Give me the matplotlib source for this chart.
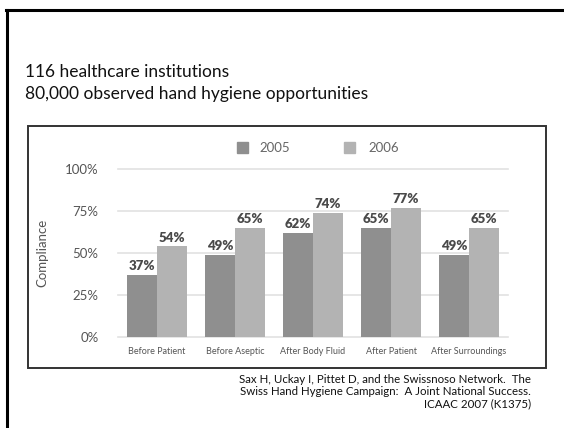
import matplotlib
matplotlib.use("Agg")
import matplotlib.pyplot as plt
import numpy as np
from matplotlib.patches import Rectangle
from matplotlib.lines import Line2D

# data
categories = ["Before Patient", "Before Aseptic", "After Body Fluid", "After Patient", "After Surroundings"]
y2005 = [37, 49, 62, 65, 49]
y2006 = [54, 65, 74, 77, 65]
years = ["2005", "2006"]
yticks = [0, 25, 50, 75, 100]

W, H = 564, 428
fig = plt.figure(figsize=(W / 100, H / 100), dpi=100)
plt.rcParams['font.family'] = ['Lato', 'DejaVu Sans']

def fx(px):
    return px / W

def fy(py):
    return 1 - py / H

# slide frame (top and left edges)
fig.add_artist(Line2D([fx(6), 1], [fy(10), fy(10)], color='black', lw=2.2))
fig.add_artist(Line2D([fx(6.5), fx(6.5)], [fy(10), 0], color='black', lw=2.2))

# headline
fig.text(fx(25), fy(72), "116 healthcare institutions", fontsize=12.5, va='center', color='#111111')
fig.text(fx(25), fy(94), "80,000 observed hand hygiene opportunities", fontsize=12.5, va='center', color='#111111')

# chart box
fig.add_artist(Rectangle((fx(28), fy(368)), fx(546) - fx(28), fy(126) - fy(368),
                         fill=False, edgecolor='#333333', lw=1.4))

ax = fig.add_axes([fx(118), fy(337), fx(508) - fx(118), fy(169) - fy(337)])
c05, c06 = '#8f8f8f', '#b3b3b3'
x = np.arange(len(categories))
w = 0.38
ax.bar(x - w / 2, y2005, w, color=c05, zorder=2)
ax.bar(x + w / 2, y2006, w, color=c06, zorder=2)

for xi, v in zip(x - w / 2, y2005):
    ax.text(xi, v + 1.5, f"{v}%", ha='center', va='bottom', fontsize=9.5,
            fontweight='heavy', color='#4a4a4a')
for xi, v in zip(x + w / 2, y2006):
    ax.text(xi, v + 1.5, f"{v}%", ha='center', va='bottom', fontsize=9.5,
            fontweight='heavy', color='#4a4a4a')

ax.set_xlim(-0.5, len(categories) - 0.5)
ax.set_ylim(0, 100)
ax.set_yticks(yticks)
ax.set_yticklabels([f"{t}%" for t in yticks], fontsize=9.5, color='#555555')
for t in yticks:
    ax.axhline(t, color='#e2e2e2', lw=1.2, zorder=1, clip_on=False)
ax.set_xticks(x)
ax.set_xticklabels(categories, fontsize=6.5, color='#555555')
ax.tick_params(length=0, axis='y', pad=14)
ax.tick_params(length=0, axis='x', pad=7)
for s in ax.spines.values():
    s.set_visible(False)
ax.set_ylabel("Compliance", fontsize=9.5, color='#555555', labelpad=12)

# legend
fig.add_artist(Rectangle((fx(237), fy(153)), fx(248) - fx(237), fy(142) - fy(153), color=c05))
fig.text(fx(259), fy(148), years[0], fontsize=9.5, va='center', color='#666666')
fig.add_artist(Rectangle((fx(344), fy(153)), fx(355) - fx(344), fy(142) - fy(153), color=c06))
fig.text(fx(368), fy(148), years[1], fontsize=9.5, va='center', color='#666666')

# citation
cite = ("Sax H, Uckay I, Pittet D, and the Swissnoso Network.  The\n"
        "Swiss Hand Hygiene Campaign:  A Joint National Success.\n"
        "ICAAC 2007 (K1375)")
fig.text(fx(531), fy(374), cite, fontsize=8.3, ha='right', va='top',
         multialignment='right', linespacing=1.1, color='#111111')

fig.savefig("out.png", dpi=100)
